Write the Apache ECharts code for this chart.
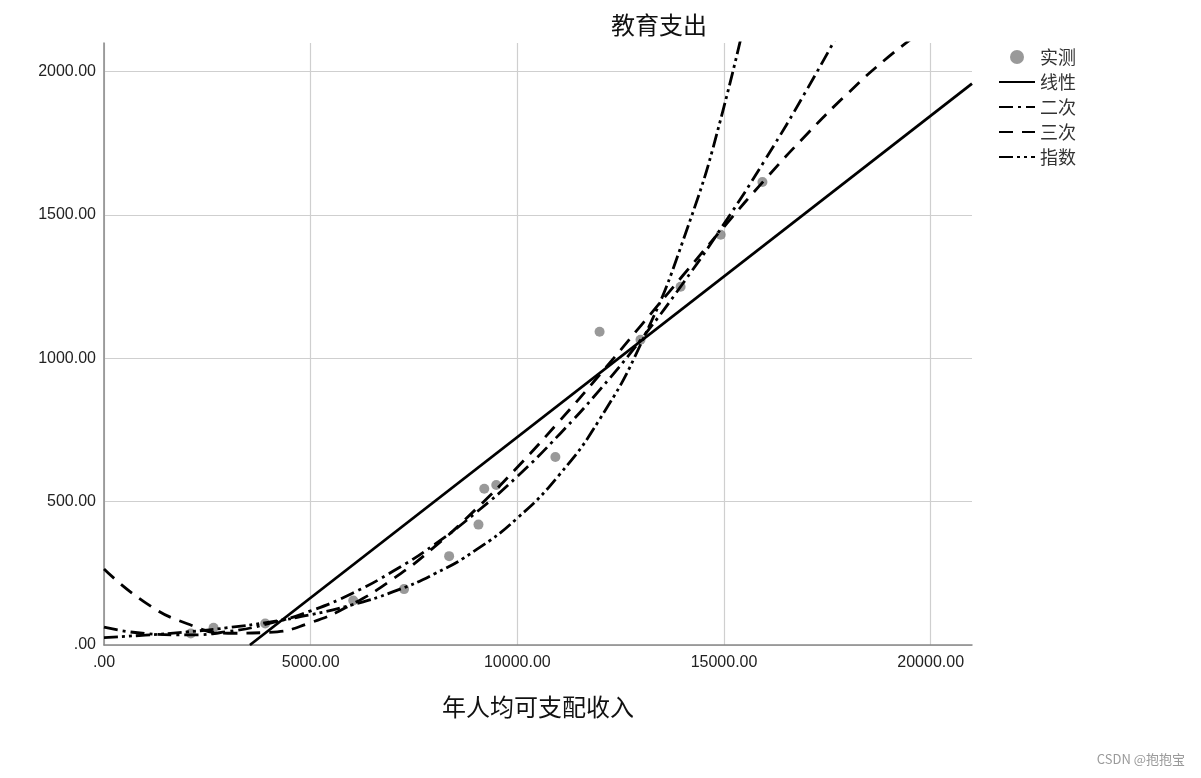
<!DOCTYPE html>
<html><head><meta charset="utf-8">
<script src="https://cdn.jsdelivr.net/npm/echarts@6/dist/echarts.min.js"></script>
<style>html,body{margin:0;padding:0;background:#fff}#c{width:1201px;height:778px}</style>
</head><body><div id="c"></div>
<script>
const titleText = '教育支出';
const xName = '年人均可支配收入';
const watermark = 'CSDN @抱抱宝';
const seriesNames = ['实测', '线性', '二次', '三次', '指数'];
// observed points
const obsX = [2100, 2650, 3900, 6030, 7260, 8350, 9060, 9200, 9490, 10920, 11990, 12980, 13950, 14920, 15930];
const obsY = [40, 60, 75, 155, 195, 310, 420, 545, 558, 656, 1093, 1065, 1250, 1431, 1615];
// fitted curves
const linX = [3530, 21000];
const linY = [0, 1958];
const curveX = [0, 1000, 2000, 3000, 4000, 5000, 6000, 7000, 8000, 9000, 10000, 11000, 12000, 13000, 14000, 15000, 16000, 17000, 18000, 19000, 20000];
const quadY = [62, 40, 35, 47, 75, 119, 180, 258, 351, 462, 588, 732, 891, 1067, 1260, 1469, 1694, 1936, 2195];
const cubicY = [265, 148, 75, 41, 44, 78, 142, 231, 343, 474, 620, 778, 944, 1116, 1288, 1459, 1625, 1781, 1925, 2054, 2163];
const expY = [26, 34.5, 45.5, 60.5, 80, 105.5, 140, 186.0, 248.4, 331.6, 442.7, 591.1, 789.2, 1053.7, 1406.8, 1878.2, 2507.6];
const xTicks = {min: 0, max: 21000, interval: 5000};
const yTicks = {min: 0, max: 2100, interval: 500};

const pair = (xs, ys) => ys.map((y, i) => [xs[i], y]);
const fmt = v => v === 0 ? '.00' : v.toFixed(2);
const chart = echarts.init(document.getElementById('c'), null, {renderer: 'canvas'});
const lineBase = (name, ys, xs, type) => ({
  name, type: 'line', data: pair(xs, ys), symbol: 'none', smooth: true, clip: true, z: 3,
  lineStyle: {color: '#000', width: 2.8, type}, itemStyle: {color: '#000'}
});
const axisCommon = {
  axisLine: {show: true, lineStyle: {color: '#888', width: 1.5}},
  axisTick: {show: false},
  axisLabel: {formatter: fmt, fontSize: 16, color: '#222', fontFamily: 'Liberation Sans', showMaxLabel: false},
  splitLine: {show: true, showMaxLine: false, lineStyle: {color: '#cfcfcf', width: 1.2}}
};
chart.setOption({
  animation: false,
  title: {text: titleText, left: 654, top: 8, textAlign: 'center',
    textStyle: {fontSize: 24, fontWeight: 'normal', color: '#111', fontFamily: 'Noto Sans CJK SC'}},
  grid: {left: 104, right: 229, top: 43, bottom: 133},
  legend: {orient: 'vertical', left: 993, top: 43, itemWidth: 36, itemHeight: 14, itemGap: 7,
    data: seriesNames.map((n, i) => i === 0 ? {name: n} : {name: n, itemStyle: {opacity: 0}}),
    textStyle: {fontSize: 18, color: '#333', fontFamily: 'Noto Sans CJK SC'}},
  xAxis: Object.assign({type: 'value', min: xTicks.min, max: xTicks.max, interval: xTicks.interval,
    name: xName, nameLocation: 'middle', nameGap: 50,
    nameTextStyle: {fontSize: 24, color: '#111', fontFamily: 'Noto Sans CJK SC'}}, axisCommon,
    {axisLabel: Object.assign({}, axisCommon.axisLabel, {margin: 10})}),
  yAxis: Object.assign({type: 'value', min: yTicks.min, max: yTicks.max, interval: yTicks.interval}, axisCommon,
    {axisLabel: Object.assign({}, axisCommon.axisLabel, {margin: 8})}),
  graphic: [{type: 'text', right: 16, top: 753,
    style: {text: watermark, fontSize: 13, fill: '#9a9a9a', fontFamily: 'Noto Sans CJK SC'}}],
  series: [
    {name: seriesNames[0], type: 'scatter', data: pair(obsX, obsY), symbol: 'circle', symbolSize: 10, z: 2,
      itemStyle: {color: '#808080'}},
    lineBase(seriesNames[1], linY, linX, 'solid'),
    lineBase(seriesNames[2], quadY, curveX, [14, 5, 3, 5]),
    lineBase(seriesNames[3], cubicY, curveX, [14, 9]),
    lineBase(seriesNames[4], expY, curveX, [14, 4, 3, 4, 3, 4])
  ]
});
</script></body></html>
